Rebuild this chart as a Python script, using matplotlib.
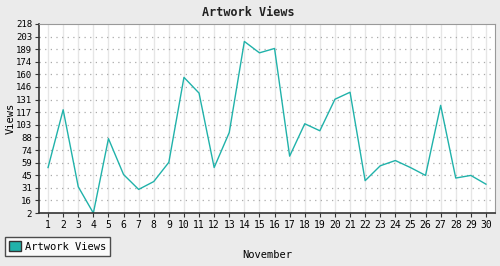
import numpy as np
import matplotlib
matplotlib.use("Agg")
import matplotlib.pyplot as plt
from matplotlib.patches import Patch

# November daily artwork views
days = list(range(1, 31))
views = [54, 120, 32, 2, 87, 46, 29, 38, 60, 157,
         139, 54, 94, 198, 185, 190, 67, 104, 96, 132,
         140, 39, 56, 62, 54, 45, 125, 42, 45, 35]
ytick_vals = np.linspace(2, 218, 16)
ytick_labels = ['2', '16', '31', '45', '59', '74', '88', '103', '117', '131',
                '146', '160', '174', '189', '203', '218']

plt.rcParams['font.family'] = ['DejaVu Sans Mono']
line_color = '#20b2aa'

fig = plt.figure(figsize=(5, 2.66), dpi=100, facecolor='#ebebeb')
ax = fig.add_axes([0.078, 0.199, 0.912, 0.711])
ax.set_facecolor('white')

ax.plot(days, views, color=line_color, linewidth=1.0)

ax.set_xlim(0.4, 30.6)
ax.set_ylim(2, 218)
ax.set_xticks(days)
ax.set_xticklabels([str(d) for d in days], fontsize=7)
ax.set_yticks(ytick_vals)
ax.set_yticklabels(ytick_labels, fontsize=6.5)
ax.tick_params(axis='both', length=3, width=0.8, color='#333333', pad=2)

# grid: solid light verticals, dotted horizontals
for d in days:
    ax.axvline(d, color='#e6e6e6', linewidth=1.0, zorder=0)
for v in ytick_vals[1:-1]:
    ax.axhline(v, color='#aaaaaa', linewidth=0.9, linestyle=(0, (1, 3.5)), zorder=0)

ax.spines['left'].set_color('#333333')
ax.spines['bottom'].set_color('#333333')
ax.spines['left'].set_linewidth(1.2)
ax.spines['bottom'].set_linewidth(1.2)
ax.spines['top'].set_color('#999999')
ax.spines['right'].set_color('#999999')

fig.text(0.497, 0.953, 'Artwork Views', ha='center', va='center',
         fontsize=8.5, fontweight='bold', color='#222222')
fig.text(0.021, 0.555, 'Views', ha='center', va='center', rotation=90, fontsize=7.5)
fig.text(0.534, 0.04, 'November', ha='center', va='center', fontsize=7.5)

handle = Patch(facecolor=line_color, edgecolor='#333333', label='Artwork Views')
leg = fig.legend(handles=[handle], loc='lower left', bbox_to_anchor=(0.01, 0.038),
                 borderaxespad=0, fontsize=7.5, frameon=True, fancybox=False,
                 handlelength=1.1, handleheight=1.1, borderpad=0.4,
                 handletextpad=0.4)
leg.get_frame().set_edgecolor('#222222')
leg.get_frame().set_linewidth(1.0)

fig.savefig('out.png', dpi=100, facecolor=fig.get_facecolor())
